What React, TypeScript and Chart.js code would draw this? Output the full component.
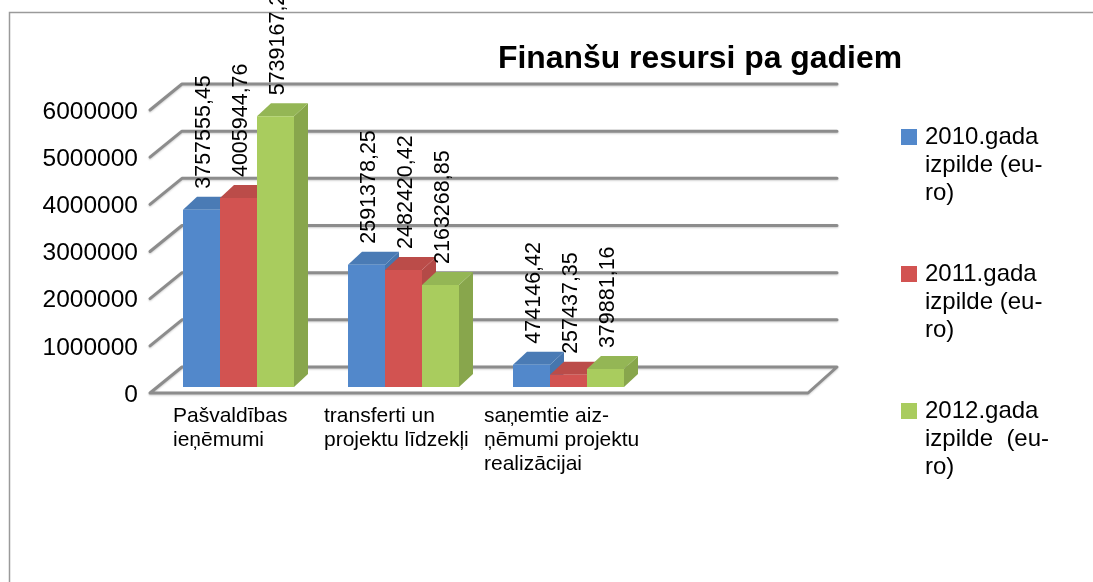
import React, { useEffect, useRef } from "react";
import { Chart, registerables } from "chart.js";

Chart.register(...registerables);

const categories = [["Pašvaldības", "ieņēmumi"], ["transferti un", "projektu līdzekļi"], ["saņemtie aiz-", "ņēmumi projektu", "realizācijai"], ""];
const seriesNames = ["2010.gada izpilde (euro)", "2011.gada izpilde (euro)", "2012.gada izpilde (euro)"];
const legendLines = [["2010.gada", "izpilde (eu-", "ro)"], ["2011.gada", "izpilde (eu-", "ro)"], ["2012.gada", "izpilde  (eu-", "ro)"]];
const values2010 = [3757555.45, 2591378.25, 474146.42, null];
const values2011 = [4005944.76, 2482420.42, 257437.35, null];
const values2012 = [5739167.25, 2163268.85, 379881.16, null];
const yTicksMax = 6000000;

const frontColors = ["#5288CB", "#D25351", "#A9CC5E"];
const topColors = ["#4A7BB5", "#BB4C49", "#94B655"];
const sideColors = ["#4676AE", "#B44A47", "#88A64C"];
const font = "'Liberation Sans', Arial, sans-serif";

const depthX = 14;
const depthY = 13;
const labelShift = [-65.5, -79.5, -84.5, 0];

function swatch(color: string) {
  const c = document.createElement("canvas");
  c.width = 16;
  c.height = 16;
  const g = c.getContext("2d")!;
  g.fillStyle = color;
  g.fillRect(0, 0, 16, 16);
  return c;
}

const chart3d = {
  id: "chart3d",
  afterLayout(chart: any) {
    chart.titleBlock.left = 498;
    chart.titleBlock.right = 902;
    const pad = chart.legend.options.labels.padding;
    chart.legend.left = 904 - pad;
    chart.legend.top = 125 - pad;
    chart.legend.right = chart.width;
    chart.legend.bottom = chart.height;
    chart.legend.width = chart.width - chart.legend.left;
    const items = chart.scales.x.getLabelItems();
    items.forEach((it: any, i: number) => {
      it.options.translation[0] += labelShift[i] ?? 0;
    });
  },
  beforeDraw(chart: any) {
    const { ctx } = chart;
    ctx.save();
    ctx.fillStyle = "#ffffff";
    ctx.fillRect(0, 0, chart.width, chart.height);
    ctx.strokeStyle = "#9a9a9a";
    ctx.lineWidth = 1.5;
    ctx.beginPath();
    ctx.moveTo(9.5, chart.height);
    ctx.lineTo(9.5, 12.5);
    ctx.lineTo(chart.width, 12.5);
    ctx.stroke();
    ctx.restore();
  },
  beforeDatasetsDraw(chart: any) {
    const { ctx, chartArea, scales } = chart;
    const y = scales.y;
    const fl = chartArea.left - 6;
    const fr = chartArea.right - 8;
    const bl = chartArea.left + 26;
    const br = chartArea.right + 21;
    ctx.save();
    ctx.lineCap = "round";
    ctx.lineJoin = "round";
    ctx.strokeStyle = "#8c8c8c";
    ctx.lineWidth = 3;
    ctx.shadowColor = "rgba(0,0,0,0.2)";
    ctx.shadowBlur = 2;
    ctx.shadowOffsetY = 1;
    y.ticks.forEach((t: any) => {
      const py = y.getPixelForValue(t.value);
      ctx.beginPath();
      ctx.moveTo(fl, py + 6);
      ctx.lineTo(bl, py - 20);
      ctx.lineTo(br, py - 20);
      if (t.value === 0) {
        ctx.lineTo(fr, py + 6);
        ctx.lineTo(fl, py + 6);
      }
      ctx.stroke();
    });
    ctx.restore();

    ctx.save();
    chart.data.datasets.forEach((ds: any, di: number) => {
      chart.getDatasetMeta(di).data.forEach((el: any, i: number) => {
        if (ds.data[i] == null) return;
        const l = el.x - el.width / 2;
        const r = el.x + el.width / 2;
        ctx.fillStyle = sideColors[di];
        ctx.beginPath();
        ctx.moveTo(r, el.y);
        ctx.lineTo(r + depthX, el.y - depthY);
        ctx.lineTo(r + depthX, el.base - depthY);
        ctx.lineTo(r, el.base);
        ctx.closePath();
        ctx.fill();
        ctx.fillStyle = topColors[di];
        ctx.beginPath();
        ctx.moveTo(l, el.y);
        ctx.lineTo(l + depthX, el.y - depthY);
        ctx.lineTo(r + depthX, el.y - depthY);
        ctx.lineTo(r, el.y);
        ctx.closePath();
        ctx.fill();
      });
    });
    ctx.restore();
  },
  afterDatasetsDraw(chart: any) {
    const { ctx } = chart;
    ctx.save();
    ctx.fillStyle = "#000000";
    ctx.font = `21.5px ${font}`;
    ctx.textAlign = "left";
    ctx.textBaseline = "middle";
    chart.data.datasets.forEach((ds: any, di: number) => {
      chart.getDatasetMeta(di).data.forEach((el: any, i: number) => {
        const v = ds.data[i];
        if (v == null) return;
        ctx.save();
        ctx.translate(el.x + 2.5, el.y - 21);
        ctx.rotate(-Math.PI / 2);
        ctx.fillText(v.toFixed(2).replace(".", ","), 0, 0);
        ctx.restore();
      });
    });
    ctx.restore();
  },
};

export default function App() {
  const ref = useRef<HTMLCanvasElement>(null);
  useEffect(() => {
    const chart = new Chart(ref.current!, {
      type: "bar",
      data: {
        labels: categories as any,
        datasets: [values2010, values2011, values2012].map((data, i) => ({
          label: seriesNames[i],
          data,
          backgroundColor: frontColors[i],
          borderWidth: 0,
          categoryPercentage: 0.6727,
          barPercentage: 1,
        })),
      },
      options: {
        responsive: false,
        animation: false,
        layout: { autoPadding: false, padding: { left: 0, top: 0, right: 127, bottom: 0 } },
        scales: {
          x: {
            grid: { display: false },
            border: { display: false },
            afterFit(s: any) {
              s.height = 195;
            },
            ticks: {
              align: "start",
              autoSkip: false,
              minRotation: 0,
              maxRotation: 0,
              padding: 9.5,
              color: "#000",
              font: { family: font, size: 21, lineHeight: 24 / 21 },
            },
          },
          y: {
            min: 0,
            max: yTicksMax,
            grid: { display: false },
            border: { display: false },
            afterFit(s: any) {
              s.width = 156;
            },
            ticks: {
              stepSize: 1000000,
              padding: 10,
              labelOffset: 8,
              color: "#000",
              font: { family: font, size: 24.5 },
              callback: (v: any) => String(v),
            },
          },
        } as any,
        plugins: {
          title: {
            display: true,
            text: "Finanšu resursi pa gadiem",
            color: "#000",
            padding: { top: 40, bottom: 25.6 },
            font: { family: font, size: 32, weight: "bold", lineHeight: 1.2 },
          },
          legend: {
            position: "right",
            align: "start",
            maxWidth: 150,
            labels: {
              usePointStyle: true,
              pointStyleWidth: 9,
              boxWidth: 16,
              boxHeight: 16,
              padding: 53,
              color: "#000",
              font: { family: font, size: 24, lineHeight: 28 / 24 },
              generateLabels: () =>
                legendLines.map((text, i) => ({
                  text,
                  datasetIndex: i,
                  fillStyle: frontColors[i],
                  strokeStyle: frontColors[i],
                  lineWidth: 0,
                  hidden: false,
                  pointStyle: swatch(frontColors[i]),
                })) as any,
            },
          },
          tooltip: { enabled: false },
        },
      } as any,
      plugins: [chart3d],
    });
    return () => chart.destroy();
  }, []);
  return (
    <div style={{ position: "fixed", left: 0, top: 0, width: 1093, height: 582, overflow: "hidden", background: "#fff" }}>
      <canvas ref={ref} width={1093} height={582} style={{ display: "block" }} />
    </div>
  );
}
